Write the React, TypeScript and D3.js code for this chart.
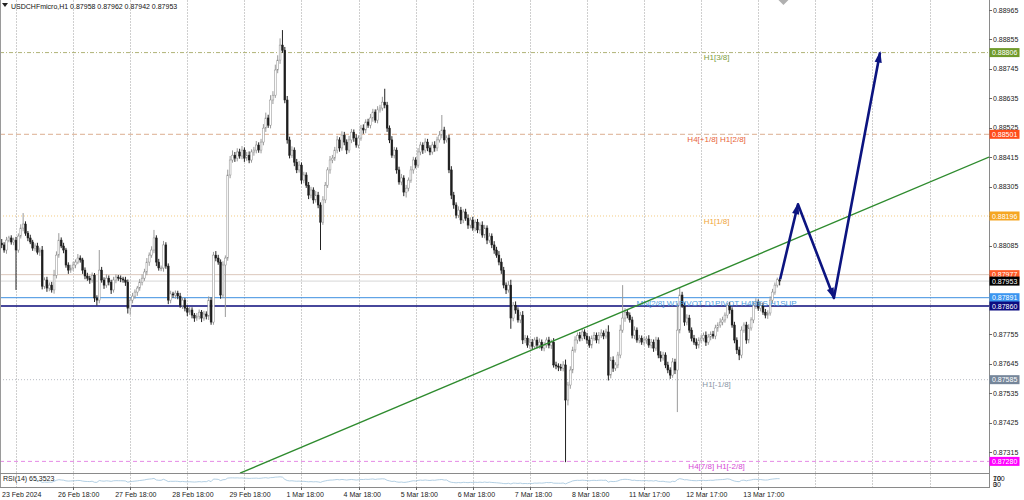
import React from 'react';
import * as d3 from 'd3';

const SYMBOL = 'USDCHFmicro,H1';
const LAST_OHLC = ['0.87958', '0.87962', '0.87942', '0.87953'];
const RSI_TEXT = 'RSI(14) 65,3523';

// prices in points (1e-5)
const firstOpen = 88095;
const closes = [
  88088, 88069, 88106, 88114, 88099, 88106, 88069, 88121, 88151, 88166,
  88132, 88114, 88099, 88076, 88084, 88061, 88069, 87934, 87957, 87927,
  87938, 87920, 87975, 88050, 88106, 88084, 88069, 88013, 87994, 88002,
  88013, 88024, 88039, 88032, 87994, 87972, 87964, 87957, 87975, 87890,
  87882, 87994, 87957, 87938, 87964, 87949, 87920, 87957, 87968, 87964,
  87961, 87957, 87949, 87852, 87882, 87897, 87912, 87927, 87949, 87964,
  87987, 88024, 88050, 88069, 88114, 88024, 88002, 88002, 88088, 88009,
  87882, 87905, 87901, 87908, 87897, 87863, 87882, 87852, 87837, 87845,
  87826, 87815, 87822, 87837, 87815, 87830, 87822, 87882, 87800, 88050,
  88039, 88024, 87901, 88013, 88039, 88349, 88405, 88423, 88412, 88435,
  88420, 88442, 88412, 88423, 88405, 88435, 88442, 88461, 88442, 88472,
  88524, 88562, 88535, 88629, 88647, 88741, 88778, 88834, 88815, 88629,
  88480, 88423, 88442, 88397, 88368, 88386, 88330, 88349, 88311, 88274,
  88293, 88256, 88274, 88237, 88173, 88256, 88311, 88368, 88405, 88412,
  88442, 88480, 88450, 88498, 88472, 88442, 88480, 88509, 88487, 88461,
  88487, 88524, 88517, 88547, 88535, 88562, 88584, 88554, 88592, 88599,
  88621, 88610, 88524, 88480, 88423, 88442, 88368, 88323, 88338, 88285,
  88300, 88330, 88368, 88405, 88386, 88435, 88461, 88442, 88472, 88450,
  88435, 88461, 88450, 88480, 88498, 88517, 88480, 88487, 88368, 88274,
  88237, 88199, 88218, 88181, 88211, 88188, 88162, 88181, 88151, 88173,
  88144, 88162, 88125, 88151, 88106, 88121, 88088, 88069, 88050, 88024,
  87994, 87938, 87920, 87938, 87815, 87863, 87845, 87808, 87826, 87733,
  87740, 87714, 87725, 87710, 87733, 87714, 87725, 87703, 87714, 87733,
  87714, 87725, 87640, 87636, 87632, 87628, 87640, 87509, 87565, 87621,
  87696, 87733, 87751, 87740, 87763, 87748, 87733, 87714, 87740, 87751,
  87733, 87751, 87759, 87748, 87763, 87602, 87658, 87628, 87640, 87677,
  87770, 87815, 87837, 87826, 87808, 87751, 87770, 87733, 87740, 87725,
  87733, 87737, 87714, 87725, 87703, 87733, 87677, 87666, 87677, 87640,
  87621, 87602, 87651, 87621, 87770, 87901, 87863, 87800, 87815, 87770,
  87740, 87725, 87714, 87733, 87740, 87751, 87725, 87744, 87755, 87748,
  87778, 87789, 87800, 87808, 87826, 87863, 87845, 87789, 87733, 87696,
  87677, 87770, 87789, 87733, 87778, 87808, 87863, 87875, 87852, 87863,
  87837, 87826, 87834, 87882, 87912, 87938, 87958, 87953,
];
const upperWicks = [
  15, 10, 12, 8, 10, 9, 12, 10, 14, 41,
  10, 8, 12, 8, 10, 12, 9, 15, 10, 12,
  10, 12, 20, 14, 26, 10, 12, 8, 10, 12,
  12, 10, 15, 10, 8, 10, 12, 9, 10, 8,
  10, 75, 12, 10, 14, 10, 9, 12, 10, 8,
  10, 8, 12, 10, 9, 12, 10, 8, 12, 14,
  12, 15, 10, 14, 30, 10, 12, 9, 15, 10,
  10, 12, 8, 10, 9, 12, 10, 8, 10, 12,
  10, 8, 12, 10, 8, 12, 10, 14, 10, 12,
  15, 12, 10, 14, 10, 20, 15, 18, 12, 14,
  12, 15, 10, 12, 14, 10, 12, 15, 10, 12,
  15, 20, 12, 18, 15, 20, 18, 25, 56, 12,
  15, 12, 14, 10, 12, 15, 10, 12, 10, 12,
  12, 10, 15, 12, 10, 14, 12, 10, 15, 12,
  12, 15, 10, 14, 12, 10, 15, 12, 10, 14,
  10, 12, 14, 10, 12, 15, 12, 10, 14, 12,
  20, 50, 12, 10, 14, 12, 10, 12, 15, 10,
  12, 10, 14, 12, 10, 15, 12, 10, 14, 12,
  10, 12, 14, 12, 15, 56, 12, 10, 12, 14,
  12, 10, 14, 12, 10, 12, 14, 10, 12, 10,
  12, 10, 14, 12, 10, 12, 10, 14, 12, 15,
  14, 12, 10, 15, 20, 12, 14, 10, 12, 15,
  12, 10, 14, 12, 10, 12, 14, 10, 12, 10,
  12, 10, 15, 12, 10, 12, 14, 20, 12, 14,
  12, 14, 10, 12, 15, 10, 12, 14, 10, 12,
  10, 12, 14, 10, 12, 25, 12, 14, 10, 12,
  20, 123, 15, 12, 10, 12, 14, 10, 12, 10,
  12, 10, 14, 12, 10, 12, 10, 14, 12, 10,
  12, 10, 15, 12, 100, 30, 12, 10, 14, 12,
  10, 12, 14, 10, 12, 10, 14, 12, 10, 12,
  12, 10, 14, 12, 10, 8, 12, 10, 12, 10,
  12, 14, 10, 12, 14, 10, 12, 14, 10, 12,
  10, 12, 10, 14, 12, 10, 8, 4,
];
const lowerWicks = [
  12, 10, 14, 8, 10, 12, 149, 10, 9, 12,
  10, 12, 8, 10, 12, 9, 14, 12, 10, 14,
  12, 10, 14, 12, 10, 8, 12, 10, 14, 10,
  10, 12, 8, 10, 14, 12, 10, 14, 10, 15,
  20, 12, 10, 14, 10, 12, 15, 10, 12, 10,
  12, 10, 14, 20, 25, 12, 10, 14, 10, 12,
  10, 12, 14, 10, 12, 15, 10, 12, 14, 10,
  15, 12, 10, 14, 12, 10, 14, 12, 15, 10,
  12, 14, 10, 12, 15, 10, 12, 14, 10, 10,
  12, 10, 14, 12, 194, 10, 12, 10, 14, 12,
  10, 12, 14, 10, 12, 10, 14, 12, 10, 12,
  12, 14, 10, 12, 15, 10, 12, 14, 10, 12,
  14, 12, 10, 15, 12, 10, 14, 12, 10, 15,
  12, 14, 10, 12, 104, 10, 12, 10, 14, 12,
  10, 12, 14, 10, 12, 15, 10, 12, 14, 10,
  12, 10, 14, 12, 10, 12, 14, 10, 12, 10,
  10, 12, 14, 12, 10, 12, 14, 10, 12, 15,
  20, 12, 10, 14, 12, 10, 12, 14, 10, 12,
  12, 10, 14, 12, 10, 12, 14, 10, 12, 15,
  14, 12, 10, 15, 12, 10, 14, 12, 10, 12,
  12, 14, 10, 12, 15, 10, 12, 14, 10, 12,
  14, 12, 15, 10, 40, 12, 14, 10, 12, 15,
  12, 10, 14, 12, 10, 12, 14, 10, 12, 10,
  12, 14, 10, 12, 15, 10, 12, 232, 20, 14,
  12, 10, 14, 12, 10, 12, 14, 10, 12, 10,
  12, 14, 10, 12, 10, 20, 12, 14, 10, 12,
  12, 10, 14, 12, 10, 12, 14, 10, 12, 10,
  12, 14, 10, 12, 14, 10, 12, 14, 10, 12,
  12, 14, 10, 15, 157, 12, 10, 14, 12, 10,
  12, 10, 14, 12, 10, 12, 14, 10, 12, 10,
  12, 14, 10, 12, 10, 12, 14, 10, 12, 15,
  19, 12, 10, 14, 12, 10, 12, 14, 10, 12,
  10, 12, 14, 10, 12, 10, 9, 16,
];

const priceTicks = [0.88965, 0.88855, 0.88745, 0.88635, 0.88525, 0.88415, 0.88305, 0.88195, 0.88085, 0.87975, 0.87865, 0.87755, 0.87645, 0.87535, 0.87425, 0.87315];
const gridBars = [6, 30, 54, 78, 102, 126, 150, 174, 198, 222, 246, 270, 294, 318, 342, 366, 390];
const timeLabelBars = [30, 54, 78, 102, 126, 150, 174, 198, 222, 246, 270, 294, 318];
const timeLabels = ['26 Feb 18:00', '27 Feb 18:00', '28 Feb 18:00', '29 Feb 18:00', '1 Mar 18:00', '4 Mar 18:00', '5 Mar 18:00', '6 Mar 18:00', '7 Mar 18:00', '8 Mar 18:00', '11 Mar 17:00', '12 Mar 17:00', '13 Mar 17:00'];
const firstLabel = '23 Feb 2024';
const rsiScaleLabels = ['100', '70', '30', '0'];
const rsiScaleValues = [100, 70, 30, 0];

const levelPrices = [0.88806, 0.88501, 0.88196, 0.87977, 0.87953, 0.87891, 0.8786, 0.87585, 0.8728];
const levelNames = ['H1[3/8]', 'H4[+1/8] H1[2/8]', 'H1[1/8]', '', '', 'MN[2/8] W1PIVOT D1PIVOT H4RES H1SUP', '', 'H1[-1/8]', 'H4[7/8] H1[-2/8]'];
const levelLabelBar = 300.5;

const trendBars = [100.15, 415];
const trendPrices = [0.87236, 0.88416];

const arrowBars = [327.2, 334.7, 349.8, 369.2];
const arrowPrices = [0.8796, 0.8824, 0.8789, 0.88806];

const levelStyles = [
  { line: '#b0b478', dash: '4,2,1,2', w: 1, box: '#6f9a2a', text: '#7e9c40' },
  { line: '#dcae90', dash: '5,3', w: 1, box: '#ff4d1a', text: '#e8643a' },
  { line: '#f3cc84', dash: '1,2', w: 1, box: '#f5a623', text: '#f0a53a' },
  { line: '#dcc8bc', dash: '', w: 1, box: '#ff5a26', text: '' },
  { line: '#d6d6d6', dash: '', w: 1, box: '#000000', text: '' },
  { line: '#3d8fe0', dash: '', w: 1, box: '#3a95f0', text: '#4d9de0' },
  { line: '#0a0a7a', dash: '', w: 1.5, box: '#0b0b80', text: '' },
  { line: '#b8bcc4', dash: '1,2', w: 1, box: '#75869a', text: '#8a96a6' },
  { line: '#e58ae5', dash: '4,3', w: 1, box: '#ff00ff', text: '#d54bd5' },
];

const FONT = 'Liberation Sans, Arial, sans-serif';

export default function App() {
  const W = 1024, H = 500;
  const plotRight = 989, mainBottom = 473, rsiBottom = 487;
  const x = d3.scaleLinear().domain([-0.727, 415]).range([0, plotRight]);
  const y = d3.scaleLinear().domain([0.88965, 0.87315]).range([10, 452]);
  const P = (v: number) => v / 1e5;

  const bars = closes.map((c, i) => {
    const o = i === 0 ? firstOpen : closes[i - 1];
    const hi = Math.max(o, c) + upperWicks[i];
    const lo = Math.min(o, c) - lowerWicks[i];
    return { i, o: P(o), h: P(hi), l: P(lo), c: P(c) };
  });

  // RSI(14), Wilder
  const rsi: (number | null)[] = [null];
  let ag = 0, al = 0;
  for (let i = 1; i < closes.length; i++) {
    const ch = closes[i] - closes[i - 1];
    const g = Math.max(ch, 0), l = Math.max(-ch, 0);
    if (i <= 14) {
      ag += g / 14; al += l / 14;
      rsi.push(i === 14 ? 100 - 100 / (1 + ag / (al || 1e-9)) : null);
    } else {
      ag = (ag * 13 + g) / 14; al = (al * 13 + l) / 14;
      rsi.push(100 - 100 / (1 + ag / (al || 1e-9)));
    }
  }
  const yr = d3.scaleLinear().domain([0, 100]).range([486, 475]);
  const rsiLine = d3.line<number | null>()
    .defined((d) => d !== null)
    .x((_, i) => x(i))
    .y((d) => yr(d as number))(rsi);

  const trendLine = d3.line<number>()
    .x((b) => x(b))
    .y((_, i) => y(trendPrices[i]))(trendBars);

  const arrowPath = d3.line<number>()
    .x((b) => x(b))
    .y((_, i) => y(arrowPrices[i]))(arrowBars);

  const heads = arrowBars.slice(1).map((b, k) => {
    const x1 = x(arrowBars[k]), y1 = y(arrowPrices[k]);
    const x2 = x(b), y2 = y(arrowPrices[k + 1]);
    const dx = x2 - x1, dy = y2 - y1, len = Math.hypot(dx, dy);
    const ux = dx / len, uy = dy / len, px = -uy, py = ux;
    const L = 10, Wd = 3.6;
    const bx = x2 - ux * L, by = y2 - uy * L;
    return `M${x2 + ux * 1.5},${y2 + uy * 1.5}L${bx + px * Wd},${by + py * Wd}L${bx - px * Wd},${by - py * Wd}Z`;
  });

  const crisp = (v: number) => Math.round(v) + 0.5;

  return (
    <svg width={W} height={H} style={{ position: 'absolute', left: 0, top: 0, background: '#fff' }} fontFamily={FONT}>
      <defs>
        <clipPath id="main"><rect x={0} y={0} width={plotRight} height={mainBottom} /></clipPath>
        <clipPath id="rsi"><rect x={0} y={mainBottom + 1} width={plotRight} height={rsiBottom - mainBottom - 1} /></clipPath>
      </defs>
      <rect x={0} y={0} width={W} height={H} fill="#fff" />

      {/* vertical grid */}
      {gridBars.map((b) => (
        <line key={'g' + b} x1={crisp(x(b))} x2={crisp(x(b))} y1={0} y2={rsiBottom} stroke="#cfcfcf" strokeWidth={1} strokeDasharray="2,1" />
      ))}

      {/* level lines */}
      <g clipPath="url(#main)">
        {levelPrices.map((p, k) => (
          <line key={'l' + k} x1={0} x2={plotRight} y1={y(p)} y2={y(p)} stroke={levelStyles[k].line}
            strokeWidth={levelStyles[k].w} strokeDasharray={levelStyles[k].dash || undefined} />
        ))}
      </g>

      {/* candles */}
      <g clipPath="url(#main)">
        {bars.map((d) => {
          const up = d.c >= d.o;
          const cx = x(d.i);
          const top = y(Math.max(d.o, d.c));
          const bh = Math.max(0.8, Math.abs(y(d.o) - y(d.c)));
          return (
            <g key={'c' + d.i}>
              <line x1={cx} x2={cx} y1={y(d.h)} y2={y(d.l)} stroke={up ? '#9a9a9a' : '#222'} strokeWidth={1} />
              <rect x={cx - 0.9} y={top} width={1.8} height={bh} fill={up ? '#ffffff' : '#1e1e1e'}
                stroke={up ? '#8c8c8c' : '#1e1e1e'} strokeWidth={0.5} />
            </g>
          );
        })}
      </g>

      {/* level texts */}
      {levelNames.map((n, k) => n ? (
        <text key={'t' + k} x={x(levelLabelBar)} y={y(levelPrices[k]) + 7.8} fontSize={8} textAnchor="middle" fill={levelStyles[k].text}>{n}</text>
      ) : null)}

      {/* trend line + arrows */}
      <g clipPath="url(#main)">
        <path d={trendLine || ''} fill="none" stroke="#2e8b2e" strokeWidth={1.4} />
        <path d={arrowPath || ''} fill="none" stroke="#0c1480" strokeWidth={2.6} strokeLinejoin="round" />
        {heads.map((h, k) => <path key={'h' + k} d={h} fill="#0c1480" />)}
      </g>

      {/* shift marker */}
      <path d={`M${x(326.5)},0L${x(330.7)},0L${x(328.6)},5Z`} fill="#b0b0b0" />

      {/* title */}
      <path d="M2,3L8,3L5,7Z" fill="#222" />
      <text x={11} y={9} fontSize={7} fill="#111">{SYMBOL + '  ' + LAST_OHLC.join(' ')}</text>

      {/* panel borders */}
      <line x1={0.5} x2={0.5} y1={0} y2={rsiBottom} stroke="#9a9a9a" />
      <line x1={0} x2={plotRight} y1={mainBottom + 0.5} y2={mainBottom + 0.5} stroke="#8a8a8a" />
      <line x1={0} x2={plotRight + 1} y1={rsiBottom + 0.5} y2={rsiBottom + 0.5} stroke="#8a8a8a" />
      <line x1={plotRight + 0.5} x2={plotRight + 0.5} y1={0} y2={rsiBottom + 1} stroke="#8a8a8a" />

      {/* RSI */}
      <g clipPath="url(#rsi)">
        <path d={rsiLine || ''} fill="none" stroke="#9fc3dc" strokeWidth={0.8} />
      </g>
      <text x={3} y={481} fontSize={7} fill="#222">{RSI_TEXT}</text>
      {rsiScaleLabels.map((t, k) => (
        <text key={'rs' + k} x={993} y={rsiScaleValues[k] >= 50 ? 481 : 487} fontSize={7} fill="#222">{t}</text>
      ))}

      {/* price axis ticks */}
      {priceTicks.map((p) => (
        <g key={'p' + p}>
          <line x1={plotRight} x2={plotRight + 3} y1={crisp(y(p))} y2={crisp(y(p))} stroke="#666" />
          <text x={993} y={y(p) + 2.5} fontSize={7} fill="#222">{d3.format('.5f')(p)}</text>
        </g>
      ))}

      {/* level boxes on axis */}
      {levelPrices.map((p, k) => (
        <g key={'b' + k}>
          <rect x={plotRight + 0.5} y={y(p) - 4.5} width={30} height={9} fill={levelStyles[k].box} />
          <text x={992} y={y(p) + 2.6} fontSize={7} fill="#ffffff">{d3.format('.5f')(p)}</text>
        </g>
      ))}

      {/* time axis */}
      <text x={2} y={497} fontSize={7} fill="#222">{firstLabel}</text>
      {timeLabelBars.map((b, k) => (
        <g key={'tl' + b}>
          <line x1={crisp(x(b))} x2={crisp(x(b))} y1={rsiBottom} y2={rsiBottom + 3} stroke="#666" />
          <text x={x(b) - 15} y={497} fontSize={7} fill="#222">{timeLabels[k]}</text>
        </g>
      ))}
    </svg>
  );
}
